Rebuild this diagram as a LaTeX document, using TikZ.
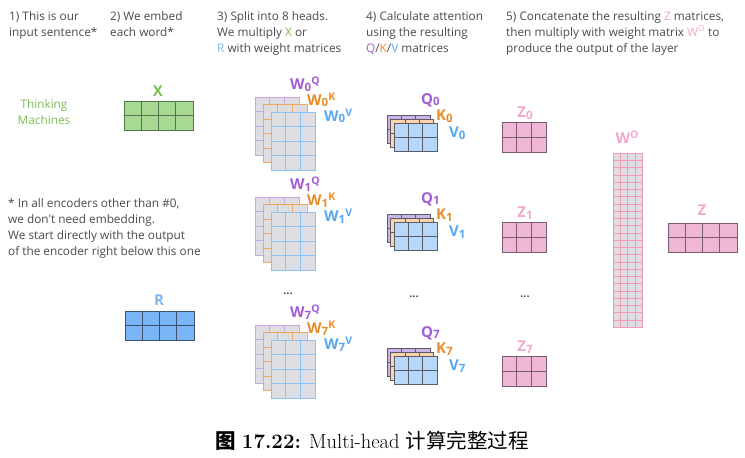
\documentclass[tikz,border=0pt]{standalone}
\usepackage{fontspec}
\usepackage{xcolor}
\usepackage{tikz}
\usetikzlibrary{positioning}
\newfontfamily\opensans{Open Sans}
\newfontfamily\cjk{Noto Sans CJK SC}
\definecolor{textgray}{RGB}{74, 74, 74}
\definecolor{xgreen}{RGB}{122, 190, 82}
\definecolor{xfill}{RGB}{168, 218, 148}
\definecolor{xline}{RGB}{88, 118, 78}
\definecolor{rblue}{RGB}{128, 184, 240}
\definecolor{rfill}{RGB}{122, 182, 245}
\definecolor{rline}{RGB}{62, 82, 112}
\definecolor{qpurple}{RGB}{162, 92, 212}
\definecolor{korange}{RGB}{232, 140, 40}
\definecolor{vblue}{RGB}{88, 168, 240}
\definecolor{zpink}{RGB}{240, 168, 204}
\definecolor{wgray}{RGB}{221, 221, 226}
\definecolor{qfill}{RGB}{202, 180, 232}
\definecolor{kfill}{RGB}{250, 212, 172}
\definecolor{vfill}{RGB}{182, 216, 250}
\definecolor{zfill}{RGB}{240, 182, 214}
\definecolor{cellline}{RGB}{92, 92, 104}
\definecolor{zline}{RGB}{122, 92, 112}
\tikzset{
  headtext/.style={
    font=\opensans\fontsize{11.8}{16}\selectfont,
    text=textgray,
    anchor=north west,
    align=left,
    inner sep=0pt
  },
  matlabel/.style={
    font=\opensans\bfseries\fontsize{15}{18}\selectfont,
    inner sep=0pt
  },
  dotsnode/.style={
    font=\opensans\bfseries\fontsize{11}{12}\selectfont,
    text=textgray,
    inner sep=0pt
  },
  xcell/.style={fill=xfill, draw=xline, line width=0.7pt},
  rcell/.style={fill=rfill, draw=rline, line width=0.7pt},
  wqcell/.style={fill=wgray, draw=qpurple!55, line width=0.7pt},
  wkcell/.style={fill=wgray, draw=korange!75, line width=0.7pt},
  wvcell/.style={fill=wgray, draw=vblue!70, line width=0.7pt},
  qcell/.style={fill=qfill, draw=cellline, line width=0.6pt},
  kcell/.style={fill=kfill, draw=cellline, line width=0.6pt},
  vcell/.style={fill=vfill, draw=cellline, line width=0.6pt},
  zcell/.style={fill=zfill, draw=zline, line width=0.7pt},
  wocell/.style={fill=wgray, draw=zpink!90!red, line width=0.5pt}
}
% label indices
\newcommand{\lsub}[1]{\raisebox{-1.5pt}{\fontsize{11.5}{12}\selectfont #1}}
\newcommand{\lsup}[1]{\raisebox{5pt}{\fontsize{10.5}{12}\selectfont #1}}
% grid of cells: x, y (top left), cols, rows, cell width, cell height, style
\newcommand{\cellmat}[7]{%
  \path[#7, draw=none] (#1,#2) rectangle ++({#3*#5},{#4*#6});
  \foreach \ci in {1,...,#3}{
    \foreach \cj in {1,...,#4}{
      \draw[#7, fill=none] ({#1+(\ci-1)*#5},{#2+(\cj-1)*#6}) rectangle ++(#5,#6);
    }
  }
}

\begin{document}
\begin{tikzpicture}[x=1pt, y=-1pt]
  \useasboundingbox (0,0) rectangle (745,458);

  % step headings
  \node[headtext] (step1) at (9,11) {1) This is our\\input sentence*};
  \node[headtext] (step2) at (110,11) {2) We embed\\each word*};
  \node[headtext] (step3) at (217,11) {3) Split into 8 heads.\\We multiply {\color{xgreen}X} or\\{\color{rblue}R} with weight matrices};
  \node[headtext] (step4) at (366,11) {4) Calculate attention\\using the resulting\\{\color{qpurple}Q}/{\color{korange}K}/{\color{vblue}V} matrices};
  \node[headtext] (step5) at (506,11) {5) Concatenate the resulting {\color{zpink}Z} matrices,\\then multiply with weight matrix {\color{zpink}W\textsuperscript{O}} to\\produce the output of the layer};

  % input sentence and embeddings
  \node[headtext, anchor=center, align=center, text=xgreen] (sentence) at (44,112) {Thinking\\Machines};
  \cellmat{124}{101}{4}{2}{17.25}{14.5}{xcell}
  \node[matlabel, text=xgreen] (xlabel) at (158,91) {X};
  \node[headtext] (note) at (8,198) {* In all encoders other than \#0,\\we don't need embedding.\\We start directly with the output\\of the encoder right below this one};
  \cellmat{125}{311}{4}{2}{17.25}{14.5}{rcell}
  \node[matlabel, text=rblue] (rlabel) at (159,300) {R};

  % weight matrices and Q/K/V per head
  \foreach \h/\wy/\qy in {0/97/115, 1/197/214, 7/325/348}{
    \cellmat{255}{\wy}{3}{4}{14.7}{14.5}{wqcell}
    \cellmat{263}{\wy+7.5}{3}{4}{14.7}{14.5}{wkcell}
    \cellmat{271}{\wy+15}{3}{4}{14.7}{14.5}{wvcell}
    \node[matlabel, text=qpurple, anchor=west] (wq\h) at (290,\wy-13) {W\lsub{\h}\lsup{Q}};
    \node[matlabel, text=korange, anchor=west] (wk\h) at (307,\wy+3) {W\lsub{\h}\lsup{K}};
    \node[matlabel, text=vblue, anchor=west] (wv\h) at (324,\wy+19) {W\lsub{\h}\lsup{V}};
    \cellmat{387}{\qy}{3}{2}{14.3}{14}{qcell}
    \cellmat{390.5}{\qy+4}{3}{2}{14.3}{14}{kcell}
    \cellmat{394}{\qy+8}{3}{2}{14.3}{14}{vcell}
    \node[matlabel, text=qpurple, anchor=west] (q\h) at (421,\qy-15) {Q\lsub{\h}};
    \node[matlabel, text=korange, anchor=west] (k\h) at (436,\qy+1) {K\lsub{\h}};
    \node[matlabel, text=vblue, anchor=west] (v\h) at (449,\qy+18) {V\lsub{\h}};
  }
  \node[dotsnode] (wdots) at (288,294) {...};
  \node[dotsnode] (qdots) at (414,297) {...};

  % Z per head
  \foreach \h/\zy in {0/122, 1/222, 7/356}{
    \cellmat{502}{\zy}{3}{2}{14.7}{15}{zcell}
    \node[matlabel, text=zpink] (z\h) at (525,\zy-9) {Z\lsub{\h}};
  }
  \node[dotsnode] (zdots) at (525,297) {...};

  % output weight matrix and result
  \cellmat{613}{153}{4}{24}{7.25}{7.25}{wocell}
  \node[matlabel, text=zpink] (wolabel) at (627,137) {W\lsup{O}};
  \cellmat{668}{223}{4}{2}{17.25}{14.5}{zcell}
  \node[matlabel, text=zpink] (zlabel) at (702,210) {Z};

  % caption
  \node[font=\fontsize{20.5}{24}\selectfont, inner sep=0pt] (caption) at (372,441)
    {{\cjk\bfseries 图}\ \textbf{17.22:} Multi-head {\cjk 计算完整过程}};
\end{tikzpicture}
\end{document}
